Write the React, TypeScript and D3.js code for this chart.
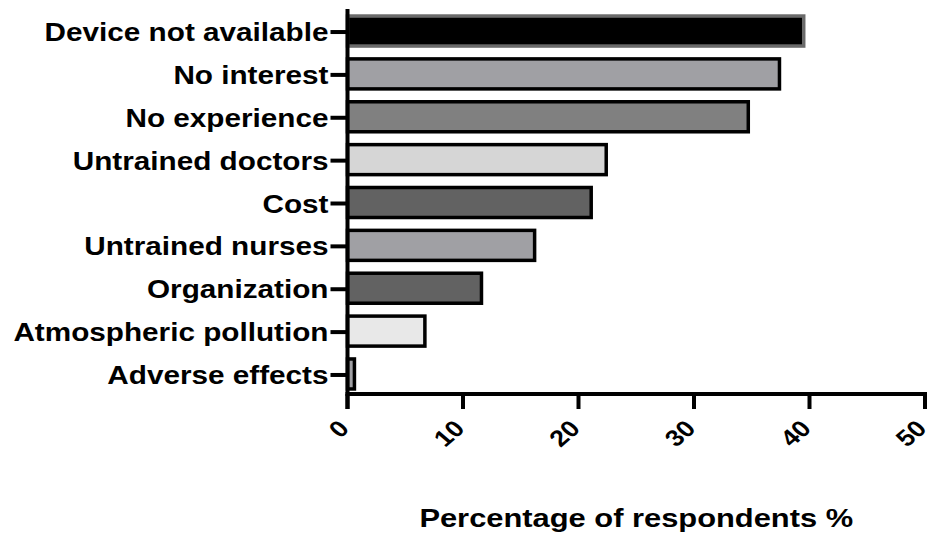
import React from "react";
import * as d3 from "d3";

const categories = [
  "Device not available",
  "No interest",
  "No experience",
  "Untrained doctors",
  "Cost",
  "Untrained nurses",
  "Organization",
  "Atmospheric pollution",
  "Adverse effects",
];
const values = [39.5, 37.4, 34.7, 22.4, 21.1, 16.2, 11.6, 6.7, 0.6];
const fills = ["#000000", "#a0a0a4", "#808080", "#d6d6d6", "#626262", "#a0a0a4", "#626262", "#e8e8e8", "#a0a0a4"];
const strokes = ["#6a6a6a", "#000", "#000", "#000", "#000", "#000", "#000", "#000", "#000"];
const xTicks = [0, 10, 20, 30, 40, 50];
const xTitle = "Percentage of respondents %";

const W = 937, H = 537;
const FONT = "'Liberation Sans', Arial, Helvetica, sans-serif";
const SX = 1.165; // horizontal stretch of the reference's lettering

export default function App() {
  const x = d3.scaleLinear().domain([0, 50]).range([347.5, 925]);
  const y = d3.scaleBand<string>().domain(categories).range([9.6, 395.4]).paddingInner(0.3).paddingOuter(0.15);
  const axisY = 394;
  const tickLen = 15;
  const labelF = 25.5;
  return (
    <svg width={W} height={H} style={{ position: "absolute", left: 0, top: 0, background: "#fff" }} fontFamily={FONT}>
      {categories.map((c, i) => (
        <rect
          key={c}
          x={x(0)}
          y={y(c)!}
          width={x(values[i]) - x(0)}
          height={y.bandwidth()}
          fill={fills[i]}
          stroke={strokes[i]}
          strokeWidth={3.5}
        />
      ))}
      {/* y axis */}
      <line x1={x(0)} x2={x(0)} y1={9} y2={axisY + tickLen} stroke="#000" strokeWidth={4} />
      {categories.map((c) => {
        const cy = y(c)! + y.bandwidth() / 2 + 1;
        return (
          <g key={c}>
            <line x1={x(0) - 17} x2={x(0)} y1={cy} y2={cy} stroke="#000" strokeWidth={4} />
            <text
              transform={`translate(${x(0) - 19},${cy + labelF * 0.358}) scale(${SX},1)`}
              textAnchor="end"
              fontSize={labelF}
              fontWeight="bold"
              fill="#000"
            >
              {c}
            </text>
          </g>
        );
      })}
      {/* x axis */}
      <line x1={x(0) - 2} x2={x(50) + 2} y1={axisY} y2={axisY} stroke="#000" strokeWidth={4} />
      {xTicks.map((t) => (
        <g key={t}>
          <line x1={x(t)} x2={x(t)} y1={axisY} y2={axisY + tickLen} stroke="#000" strokeWidth={4} />
          <text
            transform={`translate(${x(t) + 3},${axisY + 36}) scale(${SX},1) rotate(-45)`}
            textAnchor="end"
            fontSize={23}
            fontWeight="bold"
            fill="#000"
          >
            {t}
          </text>
        </g>
      ))}
      <text
        transform={`translate(${(x(0) + x(50)) / 2},527) scale(${SX},1)`}
        textAnchor="middle"
        fontSize={26.5}
        fontWeight="bold"
        fill="#000"
      >
        {xTitle}
      </text>
    </svg>
  );
}
